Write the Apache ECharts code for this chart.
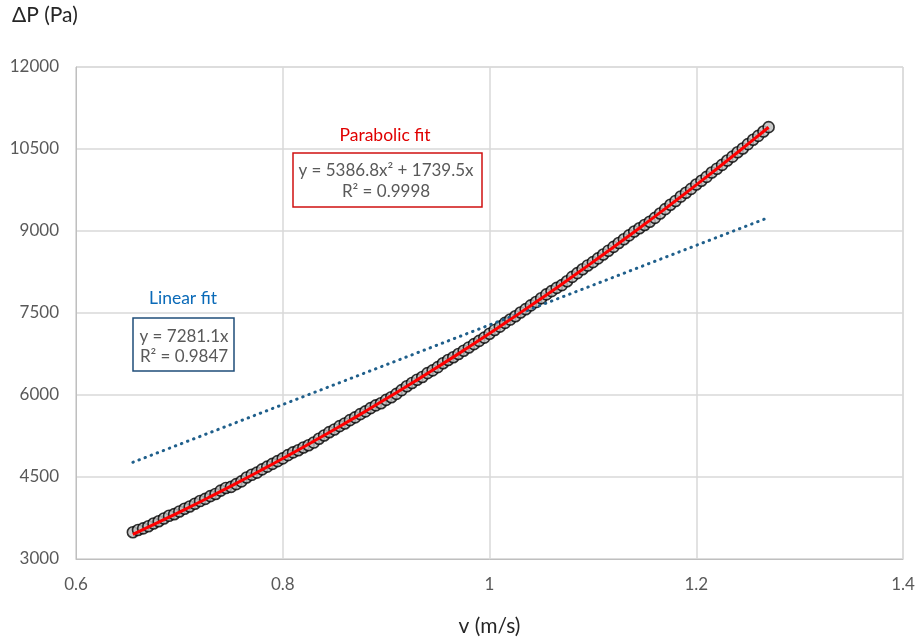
<!DOCTYPE html>
<html>
<head>
<meta charset="utf-8">
<script src="https://cdn.jsdelivr.net/npm/echarts@6/dist/echarts.min.js"></script>
<style>html,body{margin:0;padding:0;background:#fff}#c{width:917px;height:642px}</style>
</head>
<body>
<div id="c"></div>
<script>
// measured points: velocity (m/s) and pressure drop (Pa)
const vData = [0.655,0.660,0.665,0.670,0.675,0.680,0.685,0.690,0.695,0.700,0.705,0.710,0.715,0.720,0.725,0.730,0.735,0.740,0.745,0.750,0.755,0.760,0.765,0.770,0.775,0.780,0.785,0.790,0.795,0.800,0.805,0.810,0.815,0.820,0.825,0.830,0.835,0.840,0.845,0.850,0.855,0.860,0.865,0.870,0.875,0.880,0.885,0.890,0.895,0.900,0.905,0.910,0.915,0.920,0.925,0.930,0.935,0.940,0.945,0.950,0.955,0.960,0.965,0.970,0.975,0.980,0.985,0.990,0.995,1.000,1.005,1.010,1.015,1.020,1.025,1.030,1.035,1.040,1.045,1.050,1.055,1.060,1.065,1.070,1.075,1.080,1.085,1.090,1.095,1.100,1.105,1.110,1.115,1.120,1.125,1.130,1.135,1.140,1.145,1.150,1.155,1.160,1.165,1.170,1.175,1.180,1.185,1.190,1.195,1.200,1.205,1.210,1.215,1.220,1.225,1.230,1.235,1.240,1.245,1.250,1.255,1.260,1.265,1.270];
const dpData = [3490,3530,3560,3600,3650,3690,3740,3790,3820,3870,3920,3960,4010,4060,4100,4150,4190,4250,4300,4320,4370,4420,4490,4540,4580,4640,4690,4740,4790,4840,4900,4950,4990,5040,5080,5130,5200,5260,5320,5370,5430,5480,5540,5590,5650,5700,5760,5810,5850,5910,5960,6020,6090,6160,6220,6280,6330,6400,6450,6510,6580,6640,6690,6750,6810,6870,6930,6990,7050,7120,7190,7250,7320,7380,7440,7510,7570,7640,7700,7770,7840,7900,7960,8010,8080,8160,8230,8300,8370,8430,8500,8570,8640,8710,8780,8850,8920,8990,9050,9110,9170,9240,9320,9400,9480,9550,9630,9700,9770,9850,9920,9990,10070,10140,10210,10290,10360,10440,10510,10590,10670,10740,10820,10900];
// parabolic trendline as drawn (red)
const fitV = [0.655,0.68,0.705,0.73,0.755,0.78,0.805,0.83,0.855,0.88,0.905,0.93,0.955,0.98,1.005,1.03,1.055,1.08,1.105,1.13,1.155,1.18,1.205,1.23,1.255,1.27];
const fitDP = [3450,3674,3904,4141,4384,4634,4891,5155,5425,5702,5986,6277,6574,6878,7189,7507,7831,8162,8500,8844,9195,9553,9918,10289,10667,10898];
// linear trendline (blue dotted)
const linV = [0.655,1.27];
const linDP = [4769,9247];
const xTicks = {min:0.6, max:1.4, interval:0.2};
const yTicks = {min:3000, max:12000, interval:1500};

const FONT = 'Lato, "Open Sans", sans-serif';
const chart = echarts.init(document.getElementById('c'), null, {renderer:'canvas'});
chart.setOption({
  animation:false,
  backgroundColor:'#fff',
  grid:{left:76, right:14, top:67, bottom:83, show:true, borderColor:'#d9d9d9', borderWidth:1, containLabel:false, outerBoundsMode:'none'},
  xAxis:{type:'value', min:xTicks.min, max:xTicks.max, interval:xTicks.interval,
    name:'v (m/s)', nameLocation:'middle', nameGap:57,
    nameTextStyle:{fontFamily:FONT, fontSize:21, color:'#262626'},
    axisLine:{show:true, lineStyle:{color:'#bfbfbf'}}, axisTick:{show:false},
    axisLabel:{fontFamily:FONT, fontSize:17, color:'#595959', margin:17, formatter:v=>String(v)},
    splitLine:{show:true, lineStyle:{color:'#d9d9d9', width:1.5}}},
  yAxis:{type:'value', min:yTicks.min, max:yTicks.max, interval:yTicks.interval,
    axisLine:{show:true, lineStyle:{color:'#bfbfbf'}}, axisTick:{show:false},
    axisLabel:{fontFamily:FONT, fontSize:17, color:'#595959', margin:17, formatter:v=>String(v)},
    splitLine:{show:true, lineStyle:{color:'#d9d9d9', width:1.5}}},
  series:[
    {type:'scatter', data:vData.map((v,i)=>[v,dpData[i]]), symbol:'circle', symbolSize:11,
      itemStyle:{color:'#bdbdbd', borderColor:'#000', borderWidth:1.6}, z:2},
    {type:'line', data:linV.map((v,i)=>[v,linDP[i]]), showSymbol:false, symbol:'none',
      lineStyle:{color:'#1f5f8b', width:3, type:[0.5,6], cap:'round'}, z:3},
    {type:'line', data:fitV.map((v,i)=>[v,fitDP[i]]), showSymbol:false, symbol:'none', smooth:true,
      lineStyle:{color:'#ff0000', width:3}, z:4}
  ],
  graphic:[
    {type:'text', left:12, top:5, style:{text:'ΔP (Pa)', font:'21px '+FONT, fill:'#262626'}},
    {type:'text', x:385, y:135, style:{text:'Parabolic fit', font:'17.5px '+FONT, fill:'#e00000', align:'center', verticalAlign:'middle'}, z:10},
    {type:'rect', shape:{x:293, y:153, width:189, height:54}, style:{fill:'#fff', stroke:'#d01010', lineWidth:1.5}, z:10},
    {type:'text', x:386, y:171, style:{text:'y = 5386.8x² + 1739.5x', font:'17px '+FONT, fill:'#595959', align:'center', verticalAlign:'middle'}, z:11},
    {type:'text', x:386, y:192, style:{text:'R² = 0.9998', font:'17px '+FONT, fill:'#595959', align:'center', verticalAlign:'middle'}, z:11},
    {type:'text', x:183, y:298, style:{text:'Linear fit', font:'17.5px '+FONT, fill:'#0a6ab8', align:'center', verticalAlign:'middle'}, z:10},
    {type:'rect', shape:{x:133, y:318, width:101, height:53}, style:{fill:'#fff', stroke:'#1f4e79', lineWidth:1.5}, z:10},
    {type:'text', x:184, y:337, style:{text:'y = 7281.1x', font:'17px '+FONT, fill:'#595959', align:'center', verticalAlign:'middle'}, z:11},
    {type:'text', x:184, y:357, style:{text:'R² = 0.9847', font:'17px '+FONT, fill:'#595959', align:'center', verticalAlign:'middle'}, z:11}
  ]
});
</script>
</body>
</html>
